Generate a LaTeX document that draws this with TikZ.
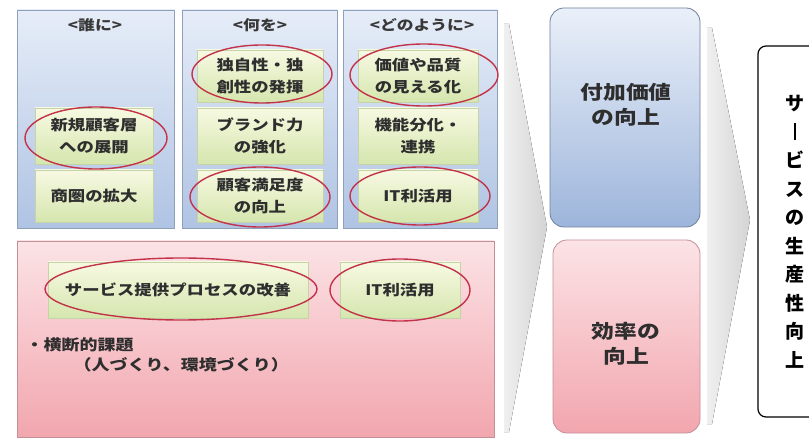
\documentclass[tikz,border=0pt]{standalone}
\usepackage{fontspec}
\setmainfont{Noto Sans CJK JP}[FakeStretch=1.2]
\newfontfamily\vjp{Noto Sans CJK JP}
\usetikzlibrary{shapes.geometric}
\definecolor{pbtop}{HTML}{E6EDF8}
\definecolor{pbbot}{HTML}{AFC3E3}
\definecolor{pbdraw}{HTML}{8FA0BA}
\definecolor{gtop}{HTML}{F7F9E2}
\definecolor{gbot}{HTML}{D5E6AE}
\definecolor{gdraw}{HTML}{C6D3A6}
\definecolor{ring}{HTML}{C2334A}
\definecolor{pktop}{HTML}{FBE3E6}
\definecolor{pkbot}{HTML}{F2A6AE}
\definecolor{pkdraw}{HTML}{C49098}
\definecolor{bbtop}{HTML}{EAF0F9}
\definecolor{bbbot}{HTML}{9DB5DB}
\definecolor{bbdraw}{HTML}{6F7F99}
\tikzset{
  panel/.style={draw=pbdraw, line width=0.8pt, top color=pbtop, bottom color=pbbot, inner sep=0pt},
  gbox/.style={draw=gdraw, line width=0.5pt, top color=gtop, bottom color=gbot, inner sep=0pt,
    align=center, font=\fontsize{14.5}{22}\selectfont\bfseries, text=black!82},
  ringstyle/.style={ellipse, draw=ring, line width=1.4pt, inner sep=0pt},
  ttl/.style={font=\fontsize{14}{18}\selectfont\bfseries, text=black!78},
  bigbox/.style={rounded corners=14pt, line width=0.8pt, inner sep=0pt, align=center,
    font=\fontsize{19}{25}\selectfont\bfseries, text=black!82},
  chev/.style={left color=black!6, right color=black!17, draw=none},
}
\begin{document}
\begin{tikzpicture}[x=1pt,y=-1pt]
\useasboundingbox (0,0) rectangle (809,438);
\fill[white] (0,0) rectangle (809,438);
% chevrons
\fill[chev] (504,24) -- (509,24) -- (547,227) -- (509,432) -- (504,432) -- cycle;
\fill[chev] (707,28) -- (712,28) -- (750,220) -- (712,424) -- (707,424) -- cycle;
% top panels
\node[panel, minimum width=157pt, minimum height=218pt] (p1) at (95.5,119) {};
\node[panel, minimum width=155pt, minimum height=218pt] (p2) at (259.5,119) {};
\node[panel, minimum width=154pt, minimum height=218pt] (p3) at (420,119) {};
\node[ttl] (t1) at (95,25) {<誰に>};
\node[ttl] (t2) at (260,25) {<何を>};
\node[ttl] (t3) at (422,25) {<どのように>};
% panel 1 boxes
\node[gbox, minimum width=118pt, minimum height=56pt] (a1) at (94,136) {新規顧客層\\への展開};
\node[gbox, minimum width=118pt, minimum height=52pt] (a2) at (94,196) {商圏の拡大};
% panel 2 boxes
\node[gbox, minimum width=126pt, minimum height=52pt] (b1) at (260,76) {独自性・独\\創性の発揮};
\node[gbox, minimum width=126pt, minimum height=56pt] (b2) at (260,136) {ブランド力\\の強化};
\node[gbox, minimum width=126pt, minimum height=52pt] (b3) at (260,196) {顧客満足度\\の向上};
% panel 3 boxes
\node[gbox, minimum width=120pt, minimum height=52pt] (c1) at (418,76) {価値や品質\\の見える化};
\node[gbox, minimum width=120pt, minimum height=56pt] (c2) at (418,136) {機能分化・\\連携};
\node[gbox, minimum width=120pt, minimum height=52pt] (c3) at (418,196) {IT利活用};
% pink panel
\node[panel, draw=pkdraw, top color=pktop, bottom color=pkbot, minimum width=477pt, minimum height=196pt] (pk) at (255.5,339) {};
\node[gbox, minimum width=260pt, minimum height=56pt] (d1) at (178,290) {サービス提供プロセスの改善};
\node[gbox, minimum width=120pt, minimum height=56pt] (d2) at (400,290) {IT利活用};
\node[ttl, font=\fontsize{15}{18}\selectfont\bfseries, anchor=west, text=black!82] (d3) at (22,345) {・横断的課題};
\node[ttl, font=\fontsize{15}{18}\selectfont\bfseries, anchor=west, text=black!82] (d4) at (70,365) {（人づくり、環境づくり）};
% rings
\node[ringstyle, minimum width=142pt, minimum height=62pt] (r1) at (96,138) {};
\node[ringstyle, minimum width=140pt, minimum height=58pt] (r2) at (262,74) {};
\node[ringstyle, minimum width=140pt, minimum height=60pt] (r3) at (260,197) {};
\node[ringstyle, minimum width=148pt, minimum height=62pt] (r4) at (424,75) {};
\node[ringstyle, minimum width=140pt, minimum height=58pt] (r5) at (420,196) {};
\node[ringstyle, minimum width=272pt, minimum height=62pt] (r6) at (181,289) {};
\node[ringstyle, minimum width=140pt, minimum height=62pt] (r7) at (400,290) {};
% right boxes
\node[bigbox, draw=bbdraw, top color=bbtop, bottom color=bbbot, minimum width=150pt, minimum height=219pt] (v1) at (625,117.5) {};
\node[bigbox] (v1t) at (626,105) {付加価値\\の向上};
\node[bigbox, draw=pkdraw, top color=pktop, bottom color=pkbot, minimum width=147pt, minimum height=193pt] (v2) at (626.5,336.5) {};
\node[bigbox] (v2t) at (626,344) {効率の\\向上};
\begin{scope}
\clip (0,0) rectangle (809,438);
\draw[line width=1.2pt, rounded corners=8pt] (812,46) -- (758,46) -- (758,417) -- (812,417);
\end{scope}
\node[align=center, font=\vjp\fontsize{19}{28.5}\selectfont\bfseries, inner sep=0pt] (w) at (795,232)
  {サ\\\rule[-1pt]{2.8pt}{17pt}\\ビ\\ス\\の\\生\\産\\性\\向\\上};
\end{tikzpicture}
\end{document}
